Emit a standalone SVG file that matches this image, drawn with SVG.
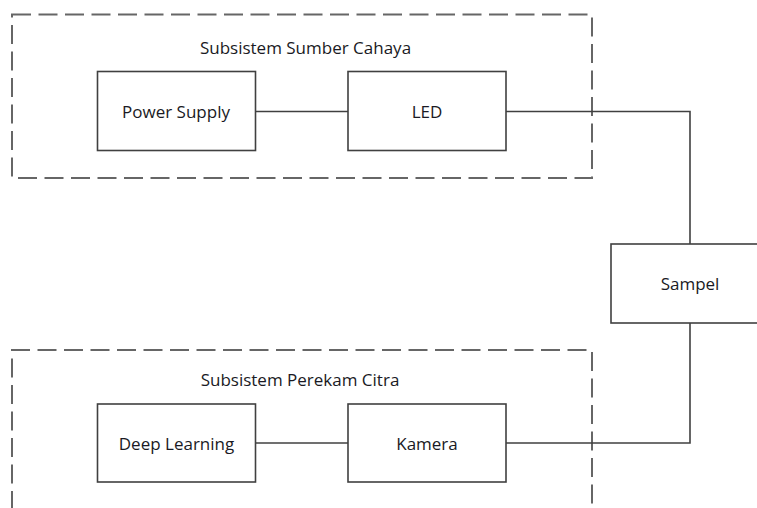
<svg xmlns="http://www.w3.org/2000/svg" width="757" height="508" viewBox="0 0 757 508">
<style>
.grp{fill:none;stroke:#666;stroke-width:2;stroke-dasharray:19 7.5}
.box{fill:#fff;stroke:#404040;stroke-width:1.6}
.lbl{font-family:"Open Sans","Noto Sans",sans-serif;font-size:17px;fill:#1a1a24;text-anchor:middle}
.conn{fill:none;stroke:#404040;stroke-width:1.6}
</style>
<rect width="757" height="508" fill="#fff"/>
<g id="subsistem-sumber-cahaya">
<rect class="grp" x="12" y="14.5" width="580" height="163.5"/>
<text class="lbl" x="305.5" y="54">Subsistem Sumber Cahaya</text>
</g>
<g id="subsistem-perekam-citra">
<path class="grp" d="M12,510 V350 H592 V510"/>
<text class="lbl" x="300" y="386">Subsistem Perekam Citra</text>
</g>
<g id="connectors">
<path class="conn" d="M256,111.5 H348"/>
<path class="conn" d="M506,111.5 H690 V244"/>
<path class="conn" d="M690,323 V443 H506"/>
<path class="conn" d="M256,443 H348"/>
</g>
<g id="power-supply">
<rect class="box" x="97.5" y="71.5" width="158" height="79"/>
<text class="lbl" x="176" y="118">Power Supply</text>
</g>
<g id="led">
<rect class="box" x="348" y="71.5" width="158" height="79"/>
<text class="lbl" x="427" y="118">LED</text>
</g>
<g id="sampel">
<rect class="box" x="611" y="244" width="160" height="79"/>
<text class="lbl" x="690" y="290">Sampel</text>
</g>
<g id="deep-learning">
<rect class="box" x="97.5" y="404" width="158" height="78"/>
<text class="lbl" x="176.5" y="450">Deep Learning</text>
</g>
<g id="kamera">
<rect class="box" x="348" y="404" width="158" height="78"/>
<text class="lbl" x="427" y="450">Kamera</text>
</g>
</svg>
